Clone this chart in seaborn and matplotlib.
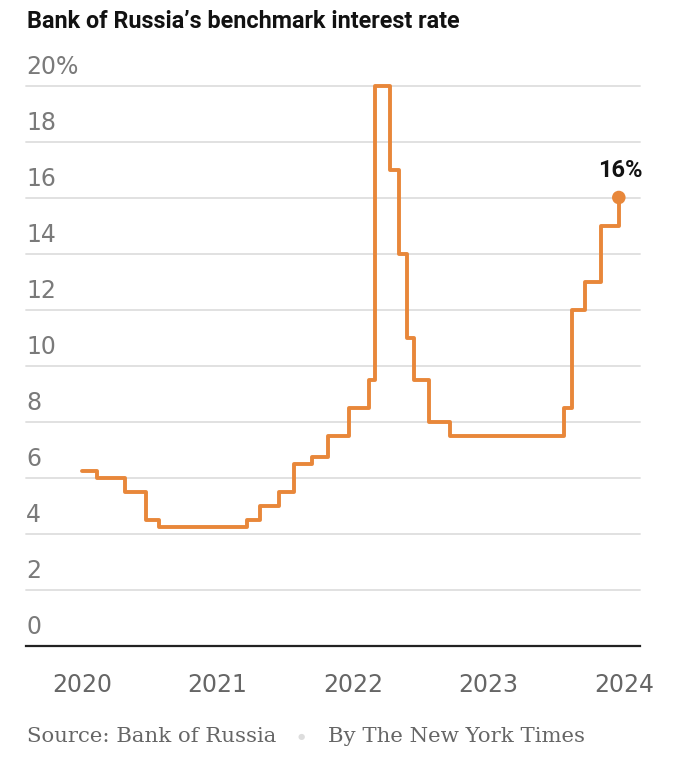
import matplotlib
matplotlib.use("Agg")
import matplotlib.pyplot as plt
import matplotlib.transforms as mtransforms
import seaborn as sns
import pandas as pd

# ---- data ----
change_dates = ["2020-01-01", "2020-02-10", "2020-04-27", "2020-06-22", "2020-07-27",
                "2021-03-22", "2021-04-26", "2021-06-15", "2021-07-26", "2021-09-13",
                "2021-10-25", "2021-12-20", "2022-02-14", "2022-02-28", "2022-04-11",
                "2022-05-04", "2022-05-27", "2022-06-14", "2022-07-25", "2022-09-19",
                "2023-07-24", "2023-08-15", "2023-09-18", "2023-10-30", "2023-12-18"]
rates = [6.25, 6.0, 5.5, 4.5, 4.25,
         4.5, 5.0, 5.5, 6.5, 6.75,
         7.5, 8.5, 9.5, 20.0, 17.0,
         14.0, 11.0, 9.5, 8.0, 7.5,
         8.5, 12.0, 13.0, 15.0, 16.0]
y_ticks = [0, 2, 4, 6, 8, 10, 12, 14, 16, 18, 20]
y_tick_labels = ["0", "2", "4", "6", "8", "10", "12", "14", "16", "18", "20%"]
x_ticks = [2020, 2021, 2022, 2023, 2024]
x_tick_labels = ["2020", "2021", "2022", "2023", "2024"]
title = "Bank of Russia\u2019s benchmark interest rate"
end_label = "16%"

# ---- prepare ----
d = pd.to_datetime(change_dates)
years = d.year + (d.dayofyear - 1) / (365 + d.is_leap_year.astype(int))
df = pd.DataFrame({"t": years, "rate": rates})

sns.set_theme(style="white")
plt.rcParams["font.family"] = ["DejaVu Sans"]

ORANGE = "#E8873A"
W, H = 700, 765
fig = plt.figure(figsize=(W / 100, H / 100), dpi=100)
left, right, top, bottom = 26, 640, 85.5, 645.5
ax = fig.add_axes([left / W, 1 - bottom / H, (right - left) / W, (bottom - top) / H])

ax.set_xlim(2020 - 56 / 135.5, 2024 + 16 / 135.5)
ax.set_ylim(0, 20)

# gridlines
for v in y_ticks[1:]:
    ax.axhline(v, color="#dedede", lw=1.3, zorder=1, clip_on=False)

sns.lineplot(data=df, x="t", y="rate", drawstyle="steps-post", color=ORANGE,
             lw=2.8, ax=ax, zorder=3, clip_on=False)
ax.scatter([df["t"].iloc[-1]], [df["rate"].iloc[-1]], s=95, color=ORANGE,
           zorder=4, clip_on=False, edgecolors="none")
ax.annotate(end_label, (df["t"].iloc[-1], df["rate"].iloc[-1]),
            xytext=(1, 11), textcoords="offset points", ha="center", va="bottom",
            fontsize=17, fontweight="bold", color="#121212",
            family=["Roboto", "DejaVu Sans"])

# y labels above gridlines
trans = mtransforms.blended_transform_factory(ax.transAxes, ax.transData)
for v, lab in zip(y_ticks, y_tick_labels):
    ax.annotate(lab, (0, v), xycoords=trans, xytext=(0, 5), textcoords="offset points",
                ha="left", va="bottom", fontsize=17, color="#7a7a7a")

ax.set_yticks([])
ax.set_xticks(x_ticks)
ax.set_xticklabels(x_tick_labels, fontsize=17, color="#666666")
ax.tick_params(axis="x", direction="out", length=6, width=1.4, color="#222222", pad=14)
ax.set_xlabel("")
ax.set_ylabel("")
for s in ["top", "right", "left"]:
    ax.spines[s].set_visible(False)
ax.spines["bottom"].set_color("#222222")
ax.spines["bottom"].set_linewidth(1.6)

fig.text(27 / W, 1 - 21 / H, title, ha="left", va="center", fontsize=16.8,
         fontweight="bold", color="#121212",
         family=["Roboto", "DejaVu Sans"])

fig.text(27 / W, 1 - 737 / H, "Source: Bank of Russia", ha="left", va="center",
         fontsize=15.3, color="#666666", family=["DejaVu Serif"])
fig.text(301 / W, 1 - 737 / H, "\u25CF", ha="center", va="center",
         fontsize=6, color="#dddddd", family=["DejaVu Sans"])
fig.text(328 / W, 1 - 737 / H, "By The New York Times", ha="left", va="center",
         fontsize=15.3, color="#666666", family=["DejaVu Serif"])

fig.savefig("out.png", dpi=100, facecolor="white")
